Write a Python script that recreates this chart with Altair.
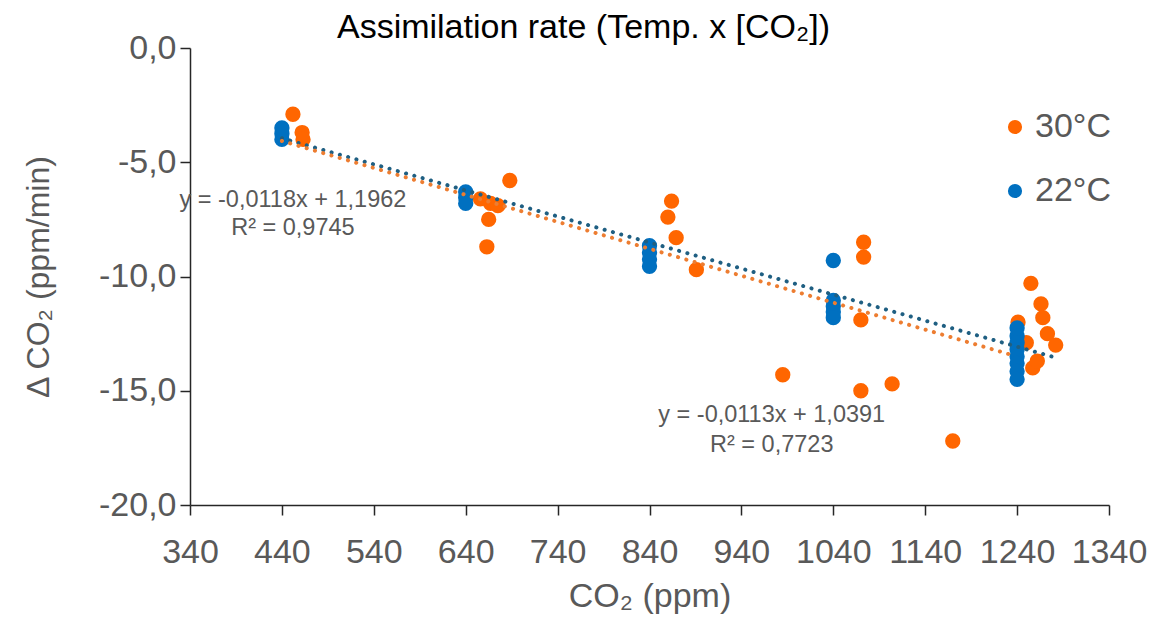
import altair as alt
import pandas as pd

# ---- data ----
co2_30 = [452, 462, 463, 656, 663, 665, 667, 675, 688, 860, 864, 869, 891,
          985, 1070, 1070, 1073, 1073, 1104, 1170, 1241, 1250, 1255, 1257,
          1262, 1266, 1268, 1273, 1282]
dco2_30 = [-2.9, -3.7, -4.0, -6.6, -8.7, -7.5, -6.8, -6.9, -5.8, -7.4, -6.7,
           -8.3, -9.7, -14.3, -11.9, -15.0, -8.5, -9.15, -14.7, -17.2, -12.0,
           -12.9, -10.3, -14.0, -13.7, -11.2, -11.8, -12.5, -13.0]

co2_22 = [440, 440, 440, 640, 640, 640, 840, 840, 840, 840,
          1040, 1040, 1040, 1040, 1040,
          1240, 1240, 1240, 1240, 1240, 1240, 1240, 1240]
dco2_22 = [-3.5, -3.75, -4.0, -6.3, -6.55, -6.8, -8.65, -8.95, -9.25, -9.55,
           -9.3, -11.05, -11.3, -11.55, -11.8,
           -12.25, -12.6, -12.9, -13.2, -13.5, -13.8, -14.15, -14.5]

series_names = ["30°C", "22°C"]
point_colors = ["#FF6600", "#0070C0"]

# trendlines (end points)
trend_series = ["22°C", "22°C", "30°C", "30°C"]
trend_x = [440, 1282, 440, 1238]
trend_y = [-3.95, -13.55, -4.07, -13.48]

# equation labels
eq_text = ["y = -0,0118x + 1,1962", "R² = 0,9745",
           "y = -0,0113x + 1,0391", "R² = 0,7723"]
eq_x = [452, 452, 973, 973]
eq_y = [-6.65, -7.88, -16.06, -17.37]

x_ticks = list(range(340, 1341, 100))
y_ticks = [0, -5, -10, -15, -20]

# ---- tables ----
pts = pd.DataFrame({
    "co2": co2_30 + co2_22,
    "d": dco2_30 + dco2_22,
    "series": ["30°C"] * len(co2_30) + ["22°C"] * len(co2_22),
    "order": [0] * len(co2_30) + [1] * len(co2_22),
})
trend = pd.DataFrame({"co2": trend_x, "d": trend_y, "series": trend_series})
eqs = pd.DataFrame({"co2": eq_x, "d": eq_y, "t": eq_text})

FONT = "Liberation Sans"
GRAY = "#595959"
AXC = "#262626"

xscale = alt.Scale(domain=[340, 1340], nice=False, zero=False)
yscale = alt.Scale(domain=[-20, 0], nice=False, zero=False)

x_enc = alt.X("co2:Q", scale=xscale, title="CO₂ (ppm)",
              axis=alt.Axis(values=x_ticks, grid=False, domainColor=AXC,
                            tickColor=AXC, tickSize=10, labelFontSize=34,
                            labelColor=GRAY, labelFont=FONT, titleFont=FONT,
                            titleFontSize=34, titleColor=GRAY,
                            titleFontWeight="normal", labelPadding=20,
                            titlePadding=10, domainWidth=1.5, tickWidth=1.5,
                            labelOverlap=False, labelFlush=False, format="d"))
y_enc = alt.Y("d:Q", scale=yscale, title="Δ CO₂ (ppm/min)",
              axis=alt.Axis(values=y_ticks, grid=False, domainColor=AXC,
                            tickColor=AXC, tickSize=10, labelFontSize=34,
                            labelColor=GRAY, labelFont=FONT, titleFont=FONT,
                            titleFontSize=32, titleColor=GRAY,
                            titleFontWeight="normal", labelPadding=4,
                            titlePadding=43, domainWidth=1.5, tickWidth=1.5,
                            labelOverlap=False, labelFlush=False,
                            labelExpr="replace(replace(format(datum.value, '.1f'), '.', ','), '\u2212', '-')"))

points = alt.Chart(pts).mark_circle(size=235, opacity=1).encode(
    x=x_enc, y=y_enc,
    color=alt.Color("series:N",
                    scale=alt.Scale(domain=series_names, range=point_colors),
                    legend=alt.Legend(title=None, orient="none", legendX=808,
                                      legendY=62, labelFontSize=34,
                                      labelColor=GRAY, labelFont=FONT,
                                      symbolSize=200, symbolType="circle",
                                      rowPadding=30, labelOffset=3)),
    order=alt.Order("order:Q"),
)

lines = alt.Chart(trend).mark_line(strokeWidth=4, strokeCap="round",
                                   strokeDash=[0.1, 8.5]).encode(
    x="co2:Q", y="d:Q", detail="series:N",
    color=alt.Color("series:N",
                    scale=alt.Scale(domain=["30°C", "22°C"],
                                    range=["#ED7D31", "#1F5F82"]),
                    legend=None),
)

labels = alt.Chart(eqs).mark_text(fontSize=23.5, font=FONT, color=GRAY,
                                  align="center", baseline="middle").encode(
    x="co2:Q", y="d:Q", text="t:N")

chart = alt.layer(points, lines, labels).resolve_scale(color="independent").properties(
    width=919, height=457,
    autosize=alt.AutoSizeParams(type="none"),
    padding={"left": 182, "top": 40, "right": 59, "bottom": 112},
    title=alt.Title("Assimilation rate (Temp. x [CO₂])", anchor="middle",
                    dx=-66, dy=24, offset=10, fontSize=34, font=FONT,
                    fontWeight="normal", color="#000000"),
).configure(background="white").configure_view(stroke=None)

chart.save("out.html", embed_options={"renderer": "svg", "actions": False})
